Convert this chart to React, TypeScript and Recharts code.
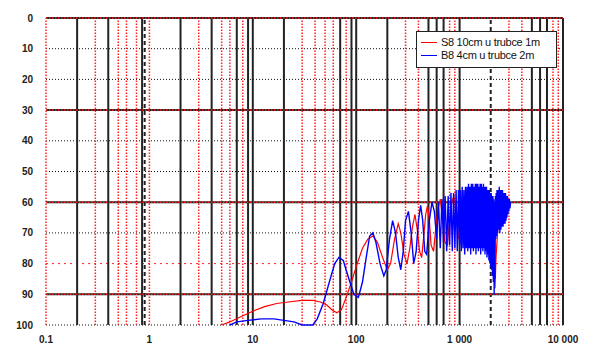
import { Line, LineChart, ReferenceLine, XAxis, YAxis } from "recharts";

// S8 10cm u trubce 1m (red)
const redFreq = [
  5, 6, 8, 10, 13, 17, 22, 30, 38, 45, 52, 58, 65, 72, 80, 90, 100, 115, 130, 145,
  160, 180, 200, 215, 235, 255, 270, 290, 310, 330, 350, 370, 390, 410, 430, 450,
  470, 490, 510, 530, 560, 590, 620, 650, 680, 720, 760, 800, 840, 880, 930, 980,
  1030, 1080, 1130, 1190, 1250, 1310, 1380, 1450, 1520, 1600, 1680, 1760, 1850,
  1940, 2040, 2150, 2200, 2250, 2350, 2450, 2550, 2650, 2750, 2850, 2950, 3000,
];
const redDb = [
  100, 99, 97, 95.5, 94, 93, 92.5, 92, 92, 92.5, 93.5, 95, 96, 95, 91, 86, 81, 75, 72, 71,
  73, 78, 82, 80, 72, 67, 70, 77, 80, 75, 68, 64, 69, 76, 78, 71,
  64, 61, 66, 74, 76, 68, 62, 59, 65, 73, 74, 66, 60, 58, 64, 72,
  70, 62, 58, 62, 70, 68, 60, 57, 63, 70, 66, 59, 60,
  67, 72, 80, 88, 78, 68, 63, 60, 64, 62, 60, 63, 61,
];

// B8 4cm u trubce 2m (blue)
const blueFreq = [
  6, 7, 9, 12, 16, 20, 25, 30, 38, 42, 48, 55, 62, 68, 75, 85, 95, 105, 115, 125,
  135, 145, 155, 170, 185, 195, 210, 225, 240, 255, 270, 285, 300, 320, 340, 360,
  380, 400, 420, 440, 460, 480, 510, 540, 570,
  600, 625, 650, 675, 700, 725, 750, 775, 800, 825, 850, 875, 900, 925, 950, 975,
  1000, 1020, 1040, 1060, 1080, 1100, 1120, 1140, 1160, 1180, 1200, 1220, 1240, 1260,
  1280, 1300, 1320, 1340, 1360, 1380, 1400, 1420, 1440, 1460, 1480, 1500, 1520, 1540,
  1560, 1580, 1600, 1620, 1640, 1660, 1680, 1700, 1720, 1740, 1760, 1780, 1800, 1820,
  1840, 1860, 1880, 1900, 1920, 1940, 1960, 1980, 2000, 2020, 2040, 2060, 2080, 2100,
  2120, 2140, 2160, 2180, 2200, 2220, 2240, 2260, 2280, 2300, 2330, 2360, 2390, 2420,
  2450, 2480, 2510, 2540, 2570, 2600, 2630, 2660, 2690, 2720, 2750, 2780, 2810, 2840,
  2870, 2900, 2930, 2960, 2990, 3030, 3070, 3110,
];
const blueDb = [
  100, 99, 98.5, 98, 98, 98.5, 99, 100, 100, 98, 93, 86, 80, 78, 79, 85, 90, 91, 86, 78,
  71, 70, 73, 80, 84, 82, 72, 66, 70, 78, 82, 76, 66, 63, 70, 80,
  76, 66, 61, 66, 76, 77, 66, 60, 63,
  72, 60, 75, 59, 73, 58, 76, 58, 74, 57, 76, 57, 75, 56, 76, 56,
  74, 56, 76, 55, 75, 56, 77, 55, 75, 55, 76, 54, 75, 55,
  77, 54, 75, 54, 76, 55, 75, 54, 77, 54, 75, 54, 76, 55,
  75, 54, 77, 54, 75, 55, 76, 54, 75, 55, 77, 55, 76, 55,
  78, 56, 77, 56, 79, 56, 80, 57, 81, 57, 82, 58, 84, 58,
  86, 59, 90, 60, 85, 58, 72, 57, 71, 56, 70, 56, 69, 55,
  70, 56, 69, 56, 68, 56, 68, 57, 67, 57, 67, 57, 66, 58,
  65, 58, 64, 59, 63, 59, 62, 60,
];

const xTicks = [0.1, 1, 10, 100, 1000, 10000];
const yTicks = [0, 10, 20, 30, 40, 50, 60, 70, 80, 90, 100];

// grid lines as drawn in the original (mixed black / red)
const gridBlackX = [0.2, 0.4, 0.85, 2, 4, 7, 9, 10, 20, 70, 90, 100, 200, 500, 600, 700, 1000, 5000, 6000, 7000, 10000];
const gridBlackDashX = [0.9, 2000];
const gridRedX = [0.1, 0.3, 0.5, 0.6, 0.75, 1, 3, 5, 6, 8, 30, 40, 50, 60, 80, 300, 400, 800, 900, 3000, 4000, 8000, 9000];
const gridSolidY = [0, 30, 60, 90];
const gridDotY = [10, 20, 40, 50, 70, 100];
const gridRedY = [80];

const redData = redFreq.map((f, i) => ({ f, db: redDb[i] }));
const blueData = blueFreq.map((f, i) => ({ f, db: blueDb[i] }));

const font = "Liberation Sans, Arial, sans-serif";

const tickStyle = {
  fontSize: 10,
  fontWeight: 700,
  fontFamily: font,
  fill: "#222",
};

const fmtX = (v: number) => (v >= 1000 ? v.toLocaleString("en-US").replace(/,/g, " ") : String(v));

function LegendBox() {
  const row = (color: string, label: string) => (
    <div style={{ display: "flex", alignItems: "center", height: 13 }}>
      <span style={{ width: 16, height: 1, background: color, marginRight: 4 }} />
      <span>{label}</span>
    </div>
  );
  return (
    <div
      style={{
        position: "absolute",
        left: 416,
        top: 31,
        width: 131,
        background: "#fff",
        border: "1px solid #222",
        padding: "4px 4px 5px",
        fontSize: 11,
        fontFamily: font,
        color: "#111",
        lineHeight: "13px",
        letterSpacing: -0.3,
        whiteSpace: "nowrap",
      }}
    >
      {row("#ff0000", "S8 10cm u trubce 1m")}
      {row("#0000ff", "B8 4cm u trubce 2m")}
    </div>
  );
}

export default function App() {
  return (
    <div style={{ position: "absolute", left: 0, top: 0, width: 590, height: 350, background: "#fff" }}>
      <LineChart width={590} height={350} margin={{ top: 18, right: 27, bottom: 0, left: 6 }}>
        <XAxis
          dataKey="f"
          type="number"
          scale="log"
          domain={[0.1, 10000]}
          allowDataOverflow
          ticks={xTicks}
          tickFormatter={fmtX}
          axisLine={false}
          tickLine={false}
          tickSize={6}
          tickMargin={5}
          height={25}
          tick={tickStyle}
          interval={0}
        />
        <YAxis
          type="number"
          reversed
          domain={[0, 100]}
          ticks={yTicks}
          axisLine={false}
          tickLine={false}
          tickSize={6}
          tickMargin={7}
          width={40}
          tick={tickStyle}
          interval={0}
        />
        {gridDotY.map((y) => (
          <ReferenceLine key={`yd${y}`} y={y} stroke="#111" strokeDasharray="1 2" />
        ))}
        {gridRedY.map((y) => (
          <ReferenceLine key={`yr${y}`} y={y} stroke="#ff2020" strokeDasharray="2 4" />
        ))}
        {gridBlackX.map((x) => (
          <ReferenceLine key={`xb${x}`} x={x} stroke="#222" strokeWidth={2} />
        ))}
        {gridBlackDashX.map((x) => (
          <ReferenceLine key={`xd${x}`} x={x} stroke="#222" strokeWidth={2} strokeDasharray="4 3" />
        ))}
        {gridRedX.map((x) => (
          <ReferenceLine key={`xr${x}`} x={x} stroke="#ff2020" strokeWidth={1.5} strokeDasharray="1.5 1.5" />
        ))}
        {gridSolidY.map((y) => (
          <ReferenceLine key={`ys${y}`} y={y} stroke="#222" strokeWidth={2} />
        ))}
        {gridSolidY.map((y) => (
          <ReferenceLine key={`ysr${y}`} y={y} stroke="#ff2020" strokeWidth={1.5} strokeDasharray="1.5 1.5" />
        ))}
        <Line
          data={redData}
          dataKey="db"
          name="S8 10cm u trubce 1m"
          stroke="#ff0000"
          strokeWidth={1.2}
          dot={false}
          isAnimationActive={false}
        />
        <Line
          data={blueData}
          dataKey="db"
          name="B8 4cm u trubce 2m"
          stroke="#0000ff"
          strokeWidth={1.4}
          dot={false}
          isAnimationActive={false}
        />
      </LineChart>
      <LegendBox />
    </div>
  );
}
